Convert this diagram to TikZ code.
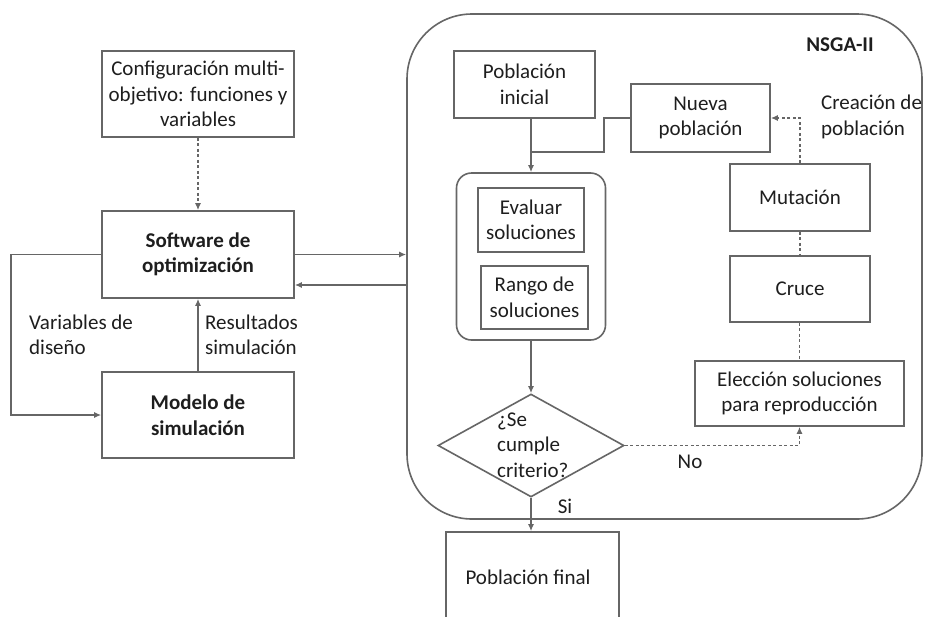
\documentclass[tikz,border=0pt]{standalone}
\usepackage{fontspec}
\setmainfont{Carlito}
\usetikzlibrary{shapes.geometric,arrows.meta,calc}
\definecolor{ln}{HTML}{666666}
\definecolor{tx}{HTML}{1e1e1e}
\begin{document}
\begin{tikzpicture}[x=1pt,y=-1pt,
  every node/.style={font=\fontsize{21}{25.5}\selectfont,text=tx},
  box/.style={draw=ln,line width=1.6pt,inner sep=0pt,align=center},
  conn/.style={draw=ln,line width=1.6pt},
  arr/.style={conn,-{Latex[length=7pt,width=6pt]}},
  dots/.style={conn,dash pattern=on 3pt off 2.5pt},
  darr/.style={dots,-{Latex[length=7pt,width=6pt]}},
  lbl/.style={align=left,inner sep=0pt}]
\useasboundingbox (0,0) rectangle (933,616);
\fill[white] (0,0) rectangle (933,616);
% left part
\node[box,minimum width=192pt,minimum height=86pt] (config) at (198,94) {Configuración multi-\\objetivo: funciones y\\variables};
\node[box,minimum width=192pt,minimum height=87pt] (soft) at (198,254.5) {\bfseries Software de\\\bfseries optimización};
\node[box,minimum width=192pt,minimum height=86pt] (modelo) at (198,415) {\bfseries Modelo de\\\bfseries simulación};
% NSGA-II container
\node[box,rounded corners=65pt,minimum width=515pt,minimum height=505pt] (big) at (664.5,266.5) {};
\node[lbl,font=\fontsize{21}{25.5}\selectfont\bfseries] (title) at (840,45) {NSGA-II};
\node[box,minimum width=141pt,minimum height=67pt] (pini) at (524.5,84.5) {Población\\inicial};
\node[box,minimum width=139pt,minimum height=68pt] (nueva) at (700.5,118) {Nueva\\población};
\node[box,rounded corners=15pt,minimum width=149pt,minimum height=167pt] (inner) at (531,256.5) {};
\node[box,minimum width=106pt,minimum height=64pt] (eval) at (531,220) {Evaluar\\soluciones};
\node[box,minimum width=107pt,minimum height=63pt] (rango) at (534.5,297.5) {Rango de\\soluciones};
\node[box,diamond,minimum width=186pt,minimum height=103pt] (dia) at (531,445.5) {};
\node[lbl,anchor=west] (diatext) at (497,445) {¿Se\\cumple\\criterio?};
\node[box,minimum width=140pt,minimum height=67pt] (mut) at (800,197.5) {Mutación};
\node[box,minimum width=140pt,minimum height=66pt] (cruce) at (800,289) {Cruce};
\node[box,minimum width=209pt,minimum height=65pt] (elec) at (799.5,393.5) {Elección soluciones\\para reproducción};
\node[box,minimum width=173pt,minimum height=98pt] (final) at (532.5,581) {};
\node (finaltext) at (528,577) {Población final};
% labels
\node[lbl,anchor=west] (lvar) at (29,335) {Variables de\\diseño};
\node[lbl,anchor=west] (lres) at (205,335) {Resultados\\simulación};
\node[lbl,anchor=west] (lcre) at (821,117) {Creación de\\población};
\node[lbl] (lno) at (690,462) {No};
\node[lbl] (lsi) at (565,506) {Si};
% connectors left
\draw[darr] (config.south) -- (soft.north);
\draw[arr] (soft.east) -- (big.west |- soft.east);
\coordinate (ret) at ([yshift=-30.5pt]soft.east);
\draw[arr] (big.west |- ret) -- (ret);
\draw[arr] (soft.west) -- ++(-90,0) |- (modelo.west);
\draw[arr] (modelo.north) -- (soft.south);
% connectors NSGA
\coordinate (join) at (531,152);
\draw[arr] (pini.south -| inner.north) -- (inner.north);
\draw[conn] (nueva.west) -- ++(-26,0) |- (join);
\draw[arr] (inner.south) -- (dia.north);
\draw[darr] (dia.east) -| (elec.south);
\draw[dots] (cruce.south -| elec.north) -- (elec.north);
\draw[dots] (mut.south) -- (cruce.north);
\draw[darr] (mut.north) |- (nueva.east);
\draw[arr] (dia.south) -- (final.north -| dia.south);
\end{tikzpicture}
\end{document}
